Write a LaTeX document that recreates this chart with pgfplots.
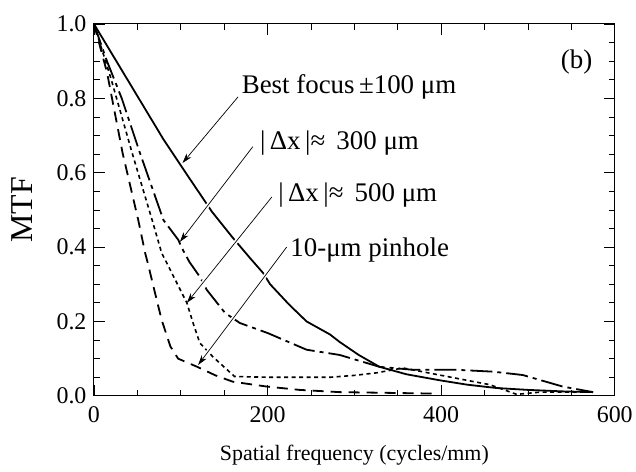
\documentclass[border=0pt]{standalone}
\usepackage{pgfplots}
\pgfplotsset{compat=1.18}
\usepackage{fontspec}
\setmainfont{Liberation Serif}
\usetikzlibrary{calc,arrows.meta}

\begin{document}
\begin{tikzpicture}
\begin{axis}[name=ax, scale only axis, width=521bp, height=372bp,
 xmin=0, xmax=600, ymin=0, ymax=1,
 xtick={0,200,400,600}, ytick={0,0.2,0.4,0.6,0.8,1.0},
 minor x tick num=3, minor y tick num=3,
 tick align=inside, major tick length=11bp, minor tick length=6bp,
 axis line style={line width=1bp},
 tick style={line width=0.8bp, black},
 tick label style={font=\fontsize{24}{28}\selectfont},
 /pgf/number format/assume math mode=true,
 yticklabel style={xshift=-4bp, /pgf/number format/fixed, /pgf/number format/fixed zerofill, /pgf/number format/precision=1},
 xticklabel style={yshift=-7bp},
 xlabel={Spatial frequency (cycles/mm)}, ylabel={MTF},
 every axis x label/.style={at={(axis description cs:0.5,0)}, yshift=-59bp, anchor=center, font=\fontsize{22}{26}\selectfont},
 every axis y label/.style={at={(axis description cs:0,0.5)}, xshift=-72bp, rotate=90, anchor=center, font=\fontsize{32}{36}\selectfont},
 clip=false]

% Best focus +-100 um (solid)
\addplot[black, line width=1.8bp] coordinates {
(0,1) (40,0.845) (80,0.69) (110,0.585) (136,0.495) (160,0.425) (180,0.37) (195,0.33)
(203,0.30) (225,0.245) (245,0.2) (272,0.165) (283,0.145) (305,0.11) (329,0.078)
(360,0.058) (398,0.042) (430,0.03) (464,0.021) (500,0.016) (540,0.012) (575,0.01)};

% |dx| ~ 300 um (dash-dot)
\addplot[black, line width=1.8bp, dash pattern=on 22bp off 5bp on 4bp off 5bp] coordinates {
(0,1) (15,0.9) (32,0.8) (53,0.653) (80,0.473) (97,0.42) (103,0.39) (110,0.36) (122,0.32)
(130,0.285) (151,0.223) (168,0.196) (200,0.169) (245,0.124) (283,0.11) (329,0.078)
(368,0.07) (418,0.07) (460,0.065) (494,0.056) (540,0.025) (575,0.01)};

% |dx| ~ 500 um (dotted)
\addplot[black, line width=1.6bp, dash pattern=on 4bp off 3.5bp] coordinates {
(0,1) (20,0.85) (44,0.653) (67,0.473) (78,0.384) (84,0.357) (107,0.25) (115,0.19)
(122,0.142) (137,0.105) (162,0.052) (200,0.05) (272,0.05) (300,0.055) (326,0.062)
(356,0.075) (398,0.056) (456,0.03) (487,0.004) (514,0.01) (575,0.01)};

% 10-um pinhole (dashed)
\addplot[black, line width=1.8bp, dash pattern=on 11bp off 7bp] coordinates {
(0,1) (15,0.87) (33,0.653) (51,0.473) (59,0.384) (62,0.357) (70,0.28) (78,0.204)
(88,0.133) (97,0.10) (119,0.078) (140,0.055) (160,0.038) (199,0.025) (237,0.016)
(283,0.01) (340,0.008) (393,0.006)};

\tikzset{ann/.style={line width=0.7bp, -{Stealth[length=10bp,width=6bp,inset=3bp]},
  preaction={draw=white, line width=4bp, -, shorten >=14bp}}}
\draw[ann] (axis cs:166,0.804) -- (axis cs:102,0.626);
\draw[ann] (axis cs:183,0.67) -- (axis cs:99,0.414);
\draw[ann] (axis cs:205,0.535) -- (axis cs:107,0.25);
\draw[ann] (axis cs:222,0.40) -- (axis cs:120,0.083);

\node[anchor=west, font=\fontsize{27}{31}\selectfont, inner sep=1bp] at (axis cs:169,0.83) {Best focus\,±100 μm};
\node[anchor=west, font=\fontsize{27}{31}\selectfont, inner sep=1bp] at (axis cs:190,0.68) {|\,Δx\,|≈\, 300 μm};
\node[anchor=west, font=\fontsize{27}{31}\selectfont, inner sep=1bp] at (axis cs:211,0.54) {|\,Δx\,|≈\, 500 μm};
\node[anchor=west, font=\fontsize{27}{31}\selectfont, inner sep=1bp] at (axis cs:225,0.392) {10-μm pinhole};
\node[font=\fontsize{27}{31}\selectfont] at (axis cs:556,0.898) {(b)};
\end{axis}
\path ($(ax.south west)+(-94bp,-76bp)$) rectangle ($(ax.north east)+(21bp,24bp)$);
\end{tikzpicture}
\end{document}
